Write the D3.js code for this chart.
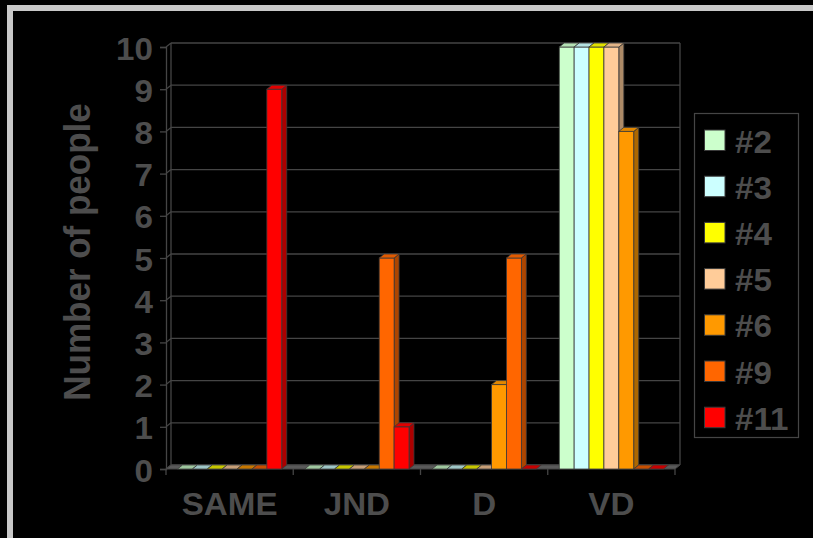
<!DOCTYPE html>
<html>
<head>
<meta charset="utf-8">
<script src="https://cdn.jsdelivr.net/npm/d3@7"></script>
<style>
  html, body { margin: 0; padding: 0; background: #000; }
  svg { display: block; }
  text { font-family: Arial, "Liberation Sans", sans-serif; font-weight: bold; fill: #4d4d4d; }
</style>
</head>
<body>
<svg id="chart" width="813" height="538"></svg>
<script>
// Ratings per difference category, one array per participant
const categories = ["SAME", "JND", "D", "VD"];
const seriesNames = ["#2", "#3", "#4", "#5", "#6", "#9", "#11"];
const seriesColors = ["#ccffcc", "#ccffff", "#ffff00", "#ffcc99", "#ff9900", "#ff6600", "#ff0000"];
const p2  = [0, 0, 0, 10];
const p3  = [0, 0, 0, 10];
const p4  = [0, 0, 0, 10];
const p5  = [0, 0, 0, 10];
const p6  = [0, 0, 2, 8];
const p9  = [0, 5, 5, 0];
const p11 = [9, 1, 0, 0];
const seriesValues = [p2, p3, p4, p5, p6, p9, p11];
const yTicks = [0, 1, 2, 3, 4, 5, 6, 7, 8, 9, 10];
const yTitle = "Number of people";

const svg = d3.select("#chart");
const W = 813, H = 538;
const STRETCH = 1.07;          // text is drawn slightly widened
const DX = 5, DY = -4;         // depth offset of the 3D box
const gridCol = "#454545";

svg.append("rect").attr("width", W).attr("height", H).attr("fill", "#000");
// light frame along the top and left edges
svg.append("rect").attr("x", 7).attr("y", 5).attr("width", W - 7).attr("height", 6).attr("fill", "#c8c8c8");
svg.append("rect").attr("x", 7).attr("y", 5).attr("width", 6).attr("height", H - 5).attr("fill", "#c8c8c8");

const x = d3.scaleBand().domain(categories).range([166, 675]).paddingInner(0).paddingOuter(0);
const bw = x.bandwidth();
const xs = d3.scaleBand().domain(seriesNames).range([bw * 0.0904, bw * (1 - 0.0904)]).padding(0);
const y = d3.scaleLinear().domain([0, 10]).range([469, 47]);
const color = d3.scaleOrdinal().domain(seriesNames).range(seriesColors);

const x0 = x.range()[0], x1 = x.range()[1];

// back wall gridlines
const grid = svg.append("g");
grid.selectAll("line.h").data(yTicks).join("line")
  .attr("x1", x0 + DX).attr("x2", x1 + DX)
  .attr("y1", d => y(d) + DY).attr("y2", d => y(d) + DY)
  .attr("stroke", gridCol).attr("stroke-width", 1.3);
// side wall diagonals from the front axis to the back wall
grid.selectAll("line.d").data(yTicks).join("line")
  .attr("x1", x0).attr("x2", x0 + DX)
  .attr("y1", d => y(d)).attr("y2", d => y(d) + DY)
  .attr("stroke", gridCol).attr("stroke-width", 1.3);
// back wall vertical edges
grid.append("line").attr("x1", x0 + DX).attr("x2", x0 + DX).attr("y1", y(10) + DY).attr("y2", y(0) + DY)
  .attr("stroke", gridCol).attr("stroke-width", 1.3);
grid.append("line").attr("x1", x1 + DX).attr("x2", x1 + DX).attr("y1", y(10) + DY).attr("y2", y(0) + DY)
  .attr("stroke", gridCol).attr("stroke-width", 1.3);
// floor
grid.append("path")
  .attr("d", `M${x0},${y(0)}L${x1},${y(0)}L${x1 + DX},${y(0) + DY}L${x0 + DX},${y(0) + DY}Z`)
  .attr("fill", "#5a5a5a").attr("stroke", gridCol).attr("stroke-width", 1);

// front value axis
const yAxis = d3.axisLeft(y).tickValues(yTicks).tickSize(6).tickPadding(7);
const yG = svg.append("g").attr("transform", `translate(${x0},0)`).call(yAxis);
yG.select(".domain").attr("stroke", gridCol).attr("stroke-width", 1.3);
yG.selectAll(".tick line").attr("stroke", gridCol).attr("stroke-width", 1.3);
yG.selectAll(".tick text")
  .attr("x", 0).attr("dy", null)
  .attr("transform", `translate(-13,12) scale(${STRETCH},1)`)
  .attr("font-size", 31)
  .attr("fill", "#4d4d4d")
  .style("font-family", "Arial, 'Liberation Sans', sans-serif")
  .style("font-weight", "bold");

// category axis: ticks at band boundaries, labels centred in each band
const bounds = categories.map(c => x(c)).concat([x1]);
svg.append("g").selectAll("line").data(bounds).join("line")
  .attr("x1", d => d).attr("x2", d => d)
  .attr("y1", y(0)).attr("y2", y(0) + 6)
  .attr("stroke", gridCol).attr("stroke-width", 1.3);
svg.append("g").selectAll("text").data(categories).join("text")
  .attr("transform", d => `translate(${x(d) + bw / 2},${y(0) + 46}) scale(${STRETCH},1)`)
  .attr("text-anchor", "middle")
  .attr("font-size", 31)
  .text(d => d);

// axis title
svg.append("text")
  .attr("transform", `translate(90,252) scale(${STRETCH},1) rotate(-90)`)
  .attr("text-anchor", "middle")
  .attr("font-size", 35)
  .text(yTitle);

// 3D columns, drawn left to right so each covers its neighbour's side face
const bars = [];
categories.forEach((c, ci) => {
  seriesNames.forEach((s, si) => {
    bars.push({ cat: c, name: s, value: seriesValues[si][ci] });
  });
});
const barG = svg.append("g");
bars.forEach(b => {
  const bx = x(b.cat) + xs(b.name);
  const w = xs.bandwidth();
  const top = y(b.value), base = y(0);
  const col = d3.color(color(b.name));
  const topCol = col.darker(0.35);
  const sideCol = col.darker(1.1);
  const g = barG.append("g");
  if (b.value > 0) {
    g.append("path")
      .attr("d", `M${bx + w},${top}L${bx + w + DX},${top + DY}L${bx + w + DX},${base + DY}L${bx + w},${base}Z`)
      .attr("fill", sideCol).attr("stroke", "#3a3a3a").attr("stroke-width", 0.8);
    g.append("rect")
      .attr("x", bx).attr("y", top).attr("width", w).attr("height", base - top)
      .attr("fill", col).attr("stroke", "#3a3a3a").attr("stroke-width", 0.8);
  }
  g.append("path")
    .attr("d", `M${bx},${top}L${bx + w},${top}L${bx + w + DX},${top + DY}L${bx + DX},${top + DY}Z`)
    .attr("fill", b.value > 0 ? topCol : col.darker(0.7))
    .attr("stroke", "#3a3a3a").attr("stroke-width", 0.8);
});

// legend
const lg = svg.append("g");
lg.append("rect").attr("x", 694.5).attr("y", 113.5).attr("width", 104).attr("height", 324)
  .attr("fill", "none").attr("stroke", "#454545").attr("stroke-width", 1.2);
const items = lg.selectAll("g.item").data(seriesNames).join("g")
  .attr("transform", (d, i) => `translate(704.5,${130 + i * 46.2})`);
items.append("rect").attr("width", 20.5).attr("height", 20.5)
  .attr("fill", d => color(d)).attr("stroke", "#3a3a3a").attr("stroke-width", 1);
items.append("text")
  .attr("transform", `translate(30.5,22.5) scale(${STRETCH},1)`)
  .attr("font-size", 31)
  .text(d => d);
</script>
</body>
</html>
